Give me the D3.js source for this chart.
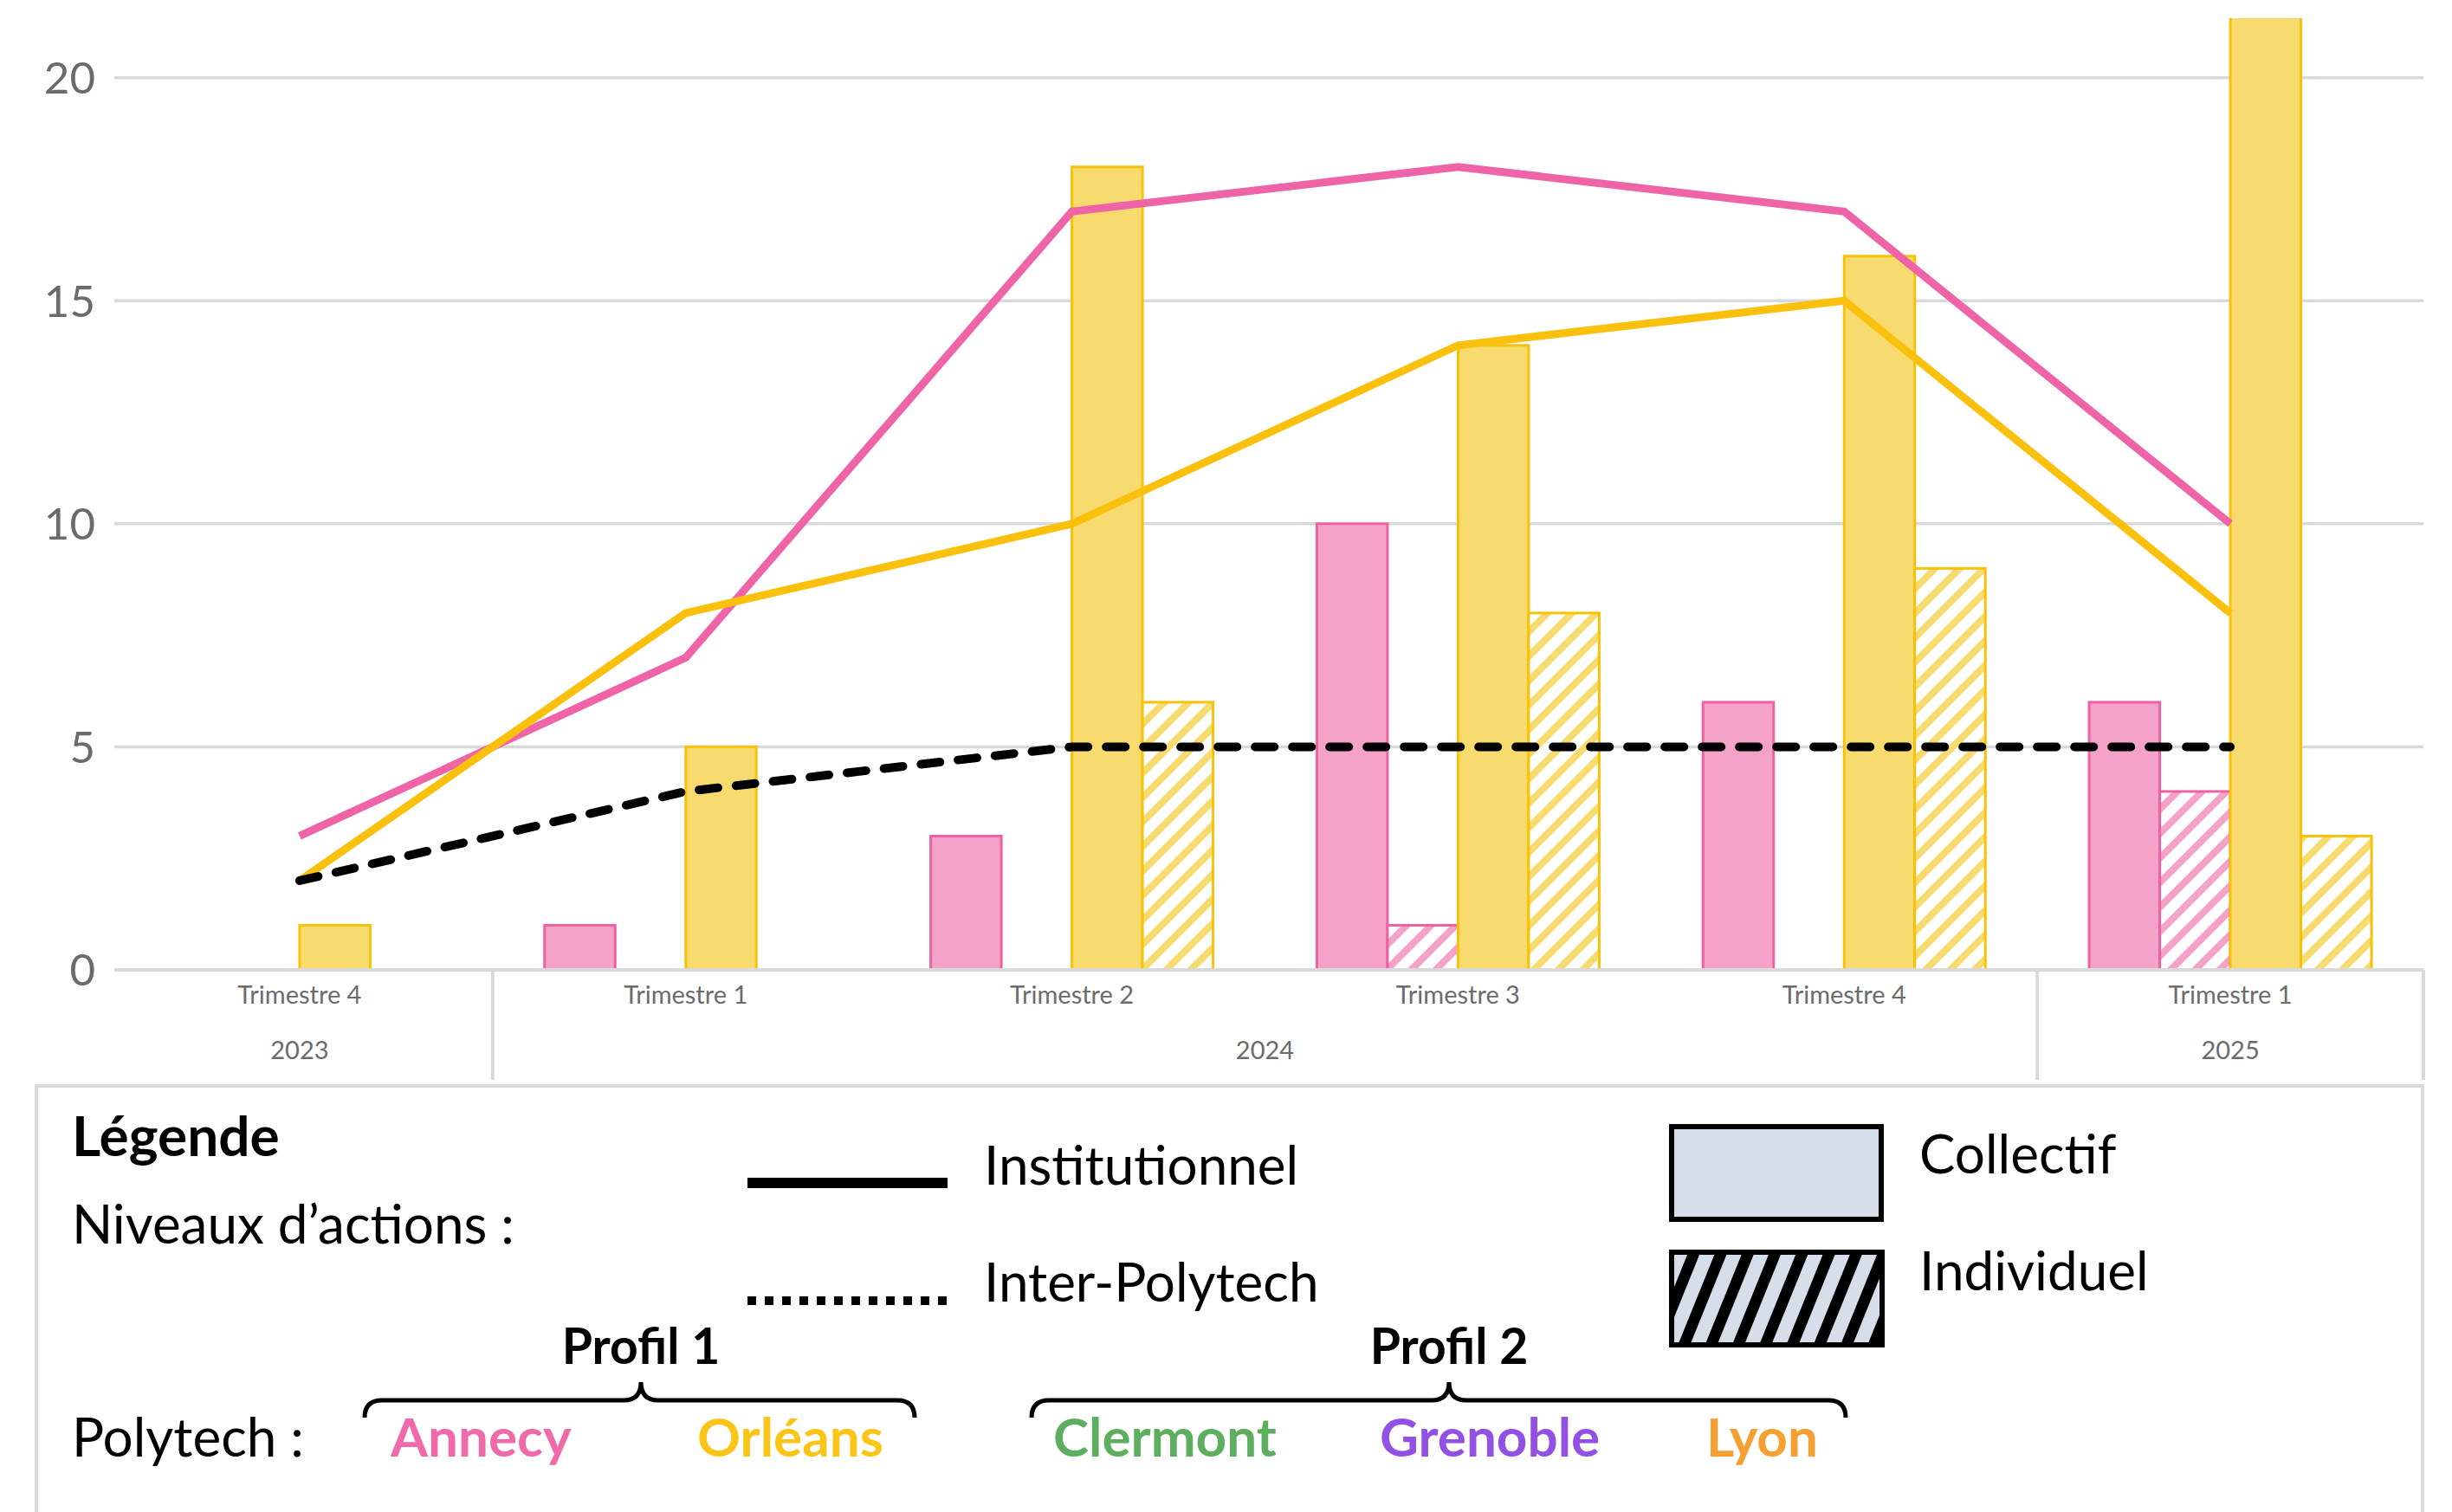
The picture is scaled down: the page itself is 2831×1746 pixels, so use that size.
<!DOCTYPE html>
<html>
<head>
<meta charset="utf-8">
<script src="https://cdn.jsdelivr.net/npm/d3@7"></script>
<style>
  body { margin: 0; background: #fff; }
  text { font-family: Lato, "Liberation Sans", sans-serif; }
</style>
</head>
<body>
<div id="body"></div>
<script>
// ---- data ----
var quarters = ["Trimestre 4", "Trimestre 1", "Trimestre 2", "Trimestre 3", "Trimestre 4", "Trimestre 1"];
var years = ["2023", "2024", "2024", "2024", "2024", "2025"];

var annecyCollectif = [0, 1, 3, 10, 6, 6];
var annecyIndividuel = [0, 0, 0, 1, 0, 4];
var orleansCollectif = [1, 5, 18, 14, 16, 22];
var orleansIndividuel = [0, 0, 6, 8, 9, 3];

var annecyInstitutionnel = [3, 7, 17, 18, 17, 10];
var orleansInstitutionnel = [2, 8, 10, 14, 15, 8];
var interPolytech = [2, 4, 5, 5, 5, 5];

var yTicks = [0, 5, 10, 15, 20];

var polytechNames = ["Annecy", "Orléans", "Clermont", "Grenoble", "Lyon"];
var polytechColors = ["#F06AA9", "#FAC517", "#5DAE5E", "#9350E5", "#F5A033"];

// ---- setup ----
var width = 2831;
var height = 1746;

var pinkFill = "#F4A2C8";
var pinkStroke = "#EE62A2";
var pinkLine = "#EF63A7";
var yellowFill = "#F8DB6F";
var yellowStroke = "#F8C20A";
var yellowLine = "#F9C10E";
var gridColor = "#D9D9D9";
var axisText = "#6b6b6b";
var legendFont = 62;

var svg = d3
  .select("#body")
  .append("svg")
  .attr("width", width)
  .attr("height", height);

var defs = svg.append("defs");

function hatch(id, color, bg, period, stripe, angle) {
  var p = defs
    .append("pattern")
    .attr("id", id)
    .attr("patternUnits", "userSpaceOnUse")
    .attr("width", period)
    .attr("height", period)
    .attr("patternTransform", "rotate(" + angle + ")");
  p.append("rect").attr("width", period).attr("height", period).attr("fill", bg);
  p.append("rect").attr("width", stripe).attr("height", period).attr("fill", color);
}
hatch("hatchPink", pinkFill, "#fff", 20, 8, 45);
hatch("hatchYellow", yellowFill, "#fff", 20, 8, 45);
hatch("hatchLegend", "#000", "#D5DEE9", 29, 13, 22);

defs
  .append("clipPath")
  .attr("id", "plotClip")
  .append("rect")
  .attr("x", 100)
  .attr("y", 21)
  .attr("width", 2720)
  .attr("height", 1099);

var x0 = d3.scaleBand().domain(d3.range(quarters.length)).range([123, 2798]);
var seriesKeys = ["aC", "aI", "oC", "oI"];
var x1 = d3.scaleBand().domain(seriesKeys).range([0, x0.bandwidth()]).paddingOuter(0.735);
var y = d3.scaleLinear().domain([0, 20]).range([1120, 89.7]);

// gridlines + y labels
var grid = svg.append("g");
grid
  .selectAll("line")
  .data(yTicks)
  .enter()
  .append("line")
  .attr("x1", 132)
  .attr("x2", 2798)
  .attr("y1", function (d) { return y(d); })
  .attr("y2", function (d) { return y(d); })
  .attr("stroke", gridColor)
  .attr("stroke-width", 3.5);

grid
  .selectAll("text")
  .data(yTicks)
  .enter()
  .append("text")
  .attr("x", 110)
  .attr("y", function (d) { return y(d); })
  .attr("dy", "0.36em")
  .attr("text-anchor", "end")
  .attr("font-size", 51)
  .attr("fill", axisText)
  .text(function (d) { return d; });

// ---- bars ----
var series = [
  { key: "aC", values: annecyCollectif, fill: pinkFill, stroke: pinkStroke },
  { key: "aI", values: annecyIndividuel, fill: "url(#hatchPink)", stroke: pinkStroke },
  { key: "oC", values: orleansCollectif, fill: yellowFill, stroke: yellowStroke },
  { key: "oI", values: orleansIndividuel, fill: "url(#hatchYellow)", stroke: yellowStroke }
];

var barData = [];
series.forEach(function (s) {
  s.values.forEach(function (v, i) {
    if (v > 0) barData.push({ key: s.key, i: i, v: v, fill: s.fill, stroke: s.stroke });
  });
});

var bars = svg.append("g").attr("clip-path", "url(#plotClip)");
bars
  .selectAll("rect")
  .data(barData)
  .enter()
  .append("rect")
  .attr("x", function (d) { return x0(d.i) + x1(d.key); })
  .attr("y", function (d) { return y(d.v); })
  .attr("width", x1.bandwidth())
  .attr("height", function (d) { return y(0) - y(d.v); })
  .attr("fill", function (d) { return d.fill; })
  .attr("stroke", function (d) { return d.stroke; })
  .attr("stroke-width", 3);

// ---- category axis ----
var axis = svg.append("g");
axis
  .append("line")
  .attr("x1", 132)
  .attr("x2", 2798)
  .attr("y1", y(0))
  .attr("y2", y(0))
  .attr("stroke", gridColor)
  .attr("stroke-width", 4);

var yearGroups = [];
years.forEach(function (yr, i) {
  var last = yearGroups[yearGroups.length - 1];
  if (last && last.year === yr) last.end = i;
  else yearGroups.push({ year: yr, start: i, end: i });
});

var seps = yearGroups.slice(1).map(function (g) { return x0(g.start); });
seps.push(x0(quarters.length - 1) + x0.bandwidth());
axis
  .selectAll("line.sep")
  .data(seps)
  .enter()
  .append("line")
  .attr("class", "sep")
  .attr("x1", function (d) { return d; })
  .attr("x2", function (d) { return d; })
  .attr("y1", y(0))
  .attr("y2", 1247)
  .attr("stroke", gridColor)
  .attr("stroke-width", 4);

axis
  .selectAll("text.q")
  .data(quarters)
  .enter()
  .append("text")
  .attr("class", "q")
  .attr("x", function (d, i) { return x0(i) + x0.bandwidth() / 2; })
  .attr("y", 1159)
  .attr("text-anchor", "middle")
  .attr("font-size", 29)
  .attr("fill", axisText)
  .text(function (d) { return d; });

axis
  .selectAll("text.yr")
  .data(yearGroups)
  .enter()
  .append("text")
  .attr("class", "yr")
  .attr("x", function (d) { return (x0(d.start) + x0(d.end) + x0.bandwidth()) / 2; })
  .attr("y", 1223)
  .attr("text-anchor", "middle")
  .attr("font-size", 29)
  .attr("fill", axisText)
  .text(function (d) { return d.year; });

// ---- lines ----
var line = d3
  .line()
  .x(function (d, i) { return x0(i) + x0.bandwidth() / 2; })
  .y(function (d) { return y(d); });

var lines = svg.append("g");
lines
  .append("path")
  .datum(annecyInstitutionnel)
  .attr("d", line)
  .attr("fill", "none")
  .attr("stroke", pinkLine)
  .attr("stroke-width", 9);
lines
  .append("path")
  .datum(orleansInstitutionnel)
  .attr("d", line)
  .attr("fill", "none")
  .attr("stroke", yellowLine)
  .attr("stroke-width", 9);
lines
  .append("path")
  .datum(interPolytech)
  .attr("d", line)
  .attr("fill", "none")
  .attr("stroke", "#000")
  .attr("stroke-width", 10)
  .attr("stroke-linecap", "round")
  .attr("stroke-dasharray", "22 21");

// ---- legend ----
var legend = svg.append("g");
legend
  .append("path")
  .attr("d", "M42,1760 L42,1254 L2797,1254 L2797,1760")
  .attr("fill", "none")
  .attr("stroke", gridColor)
  .attr("stroke-width", 4);

legend.append("text").attr("x", 83).attr("y", 1335).attr("font-size", 64)
  .attr("font-weight", "bold").text("Légende");
legend.append("text").attr("x", 83).attr("y", 1436).attr("font-size", legendFont)
  .text("Niveaux d’actions :");
legend.append("text").attr("x", 83).attr("y", 1682).attr("font-size", legendFont)
  .text("Polytech :");

// line samples
legend.append("line").attr("x1", 863).attr("x2", 1094).attr("y1", 1366).attr("y2", 1366)
  .attr("stroke", "#000").attr("stroke-width", 12);
legend.append("line").attr("x1", 863).attr("x2", 1094).attr("y1", 1502).attr("y2", 1502)
  .attr("stroke", "#000").attr("stroke-width", 10).attr("stroke-dasharray", "10 10");
legend.append("text").attr("x", 1136).attr("y", 1368).attr("font-size", legendFont).text("Institutionnel");
legend.append("text").attr("x", 1136).attr("y", 1503).attr("font-size", legendFont).text("Inter-Polytech");

// fill samples
legend.append("rect").attr("x", 1930).attr("y", 1301).attr("width", 242).attr("height", 107)
  .attr("fill", "#D5DEE9").attr("stroke", "#000").attr("stroke-width", 6);
legend.append("rect").attr("x", 1930).attr("y", 1446).attr("width", 243).attr("height", 107)
  .attr("fill", "url(#hatchLegend)").attr("stroke", "#000").attr("stroke-width", 6);
legend.append("text").attr("x", 2216).attr("y", 1355).attr("font-size", legendFont).text("Collectif");
legend.append("text").attr("x", 2216).attr("y", 1490).attr("font-size", legendFont).text("Individuel");

// profiles with braces
var profils = [
  { label: "Profil 1", x1: 421, x2: 1056, tip: 740 },
  { label: "Profil 2", x1: 1191, x2: 2131, tip: 1673 }
];
function bracePath(p) {
  var yb = 1617, r = 20;
  return "M" + p.x1 + "," + (yb + 20) +
    " Q" + p.x1 + "," + yb + " " + (p.x1 + r) + "," + yb +
    " L" + (p.tip - r) + "," + yb +
    " Q" + p.tip + "," + yb + " " + p.tip + "," + (yb - 21) +
    " Q" + p.tip + "," + yb + " " + (p.tip + r) + "," + yb +
    " L" + (p.x2 - r) + "," + yb +
    " Q" + p.x2 + "," + yb + " " + p.x2 + "," + (yb + 20);
}
legend
  .selectAll("path.brace")
  .data(profils)
  .enter()
  .append("path")
  .attr("class", "brace")
  .attr("d", bracePath)
  .attr("fill", "none")
  .attr("stroke", "#000")
  .attr("stroke-width", 5);
legend
  .selectAll("text.profil")
  .data(profils)
  .enter()
  .append("text")
  .attr("class", "profil")
  .attr("x", function (d) { return d.tip; })
  .attr("y", 1575)
  .attr("text-anchor", "middle")
  .attr("font-size", 57)
  .attr("font-weight", "bold")
  .text(function (d) { return d.label; });

var nameX = [451, 805, 1216, 1593, 1970];
legend
  .selectAll("text.pt")
  .data(polytechNames)
  .enter()
  .append("text")
  .attr("class", "pt")
  .attr("x", function (d, i) { return nameX[i]; })
  .attr("y", 1682)
  .attr("font-size", legendFont)
  .attr("font-weight", "bold")
  .attr("fill", function (d, i) { return polytechColors[i]; })
  .text(function (d) { return d; });
</script>
</body>
</html>
